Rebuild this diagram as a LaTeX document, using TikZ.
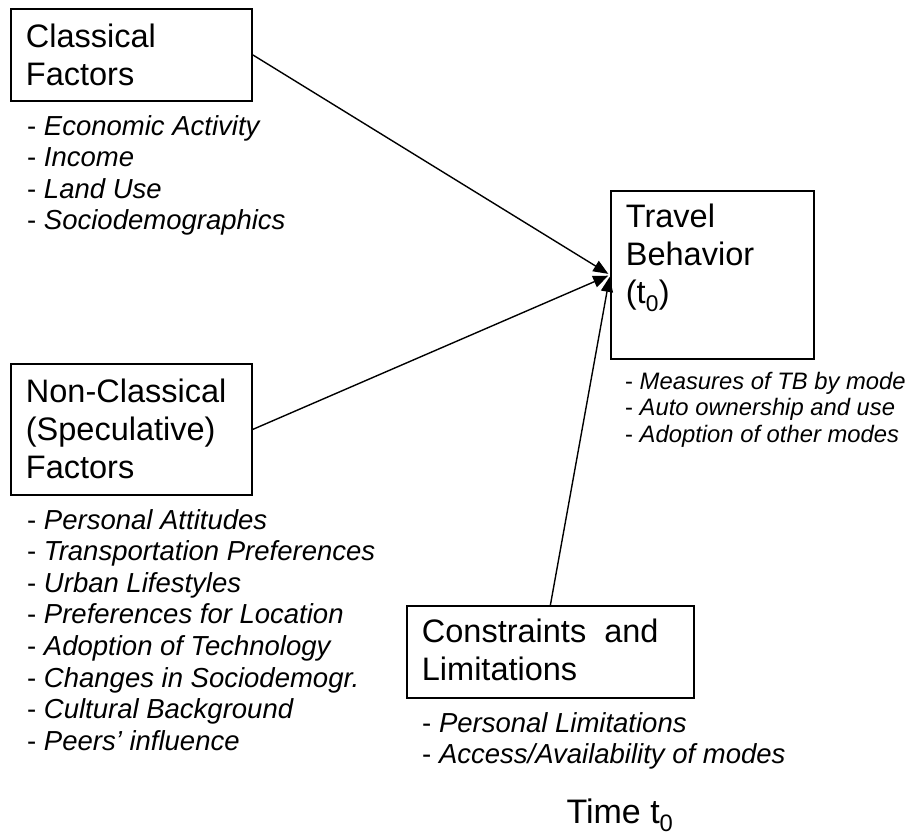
\documentclass[tikz,border=0pt]{standalone}
\usepackage{fontspec}
\setmainfont{Liberation Sans}
\usepackage{tikz}
\usetikzlibrary{positioning}
\usetikzlibrary{arrows.meta}
\newcommand{\titlesize}{\fontsize{32.5}{38}\selectfont}
\newcommand{\listsize}{\fontsize{27.5}{31.6}\selectfont}
\newcommand{\tbsize}{\fontsize{23.8}{26.7}\selectfont}
\newcommand{\timesize}{\fontsize{34}{40}\selectfont}

\begin{document}
\begin{tikzpicture}[x=1pt,y=-1pt]
\tikzset{factorbox/.style={draw, line width=1.8pt, inner xsep=15pt, inner ysep=0pt, anchor=north west, font=\titlesize}}
\tikzset{factorlist/.style={inner sep=0pt, font=\listsize}}
\tikzset{tblist/.style={inner sep=0pt, font=\tbsize}}
\tikzset{causal/.style={-{Triangle[length=15pt,width=12pt]}, line width=1.4pt, shorten >=2pt}}
\useasboundingbox (0,0) rectangle (910,835);
\node[factorbox] (classical) at (10,8) {\parbox[c][92pt][t]{211pt}{\rule{0pt}{39pt}Classical\\Factors}};
\node[factorbox] (nonclassical) at (10,363) {\parbox[c][131pt][t]{211pt}{\rule{0pt}{39pt}Non-Classical\\(Speculative)\\Factors}};
\node[factorbox] (tb) at (610,190) {\parbox[c][168pt][t]{173pt}{\rule{0pt}{37pt}Travel\\Behavior\\(t\textsubscript{0})}};
\node[factorbox] (constraints) at (406,605) {\parbox[c][92pt][t]{257pt}{\rule{0pt}{37pt}Constraints\ \ and\\Limitations}};
\node[factorlist, below right=0pt and 17pt of classical.south west] (classicallist) {\parbox[t]{400pt}{\rule{0pt}{33pt}- \textit{Economic Activity}\\- \textit{Income}\\- \textit{Land Use}\\- \textit{Sociodemographics}}};
\node[factorlist, below right=0pt and 17pt of nonclassical.south west] (nonclassicallist) {\parbox[t]{400pt}{\rule{0pt}{33pt}- \textit{Personal Attitudes}\\- \textit{Transportation Preferences}\\- \textit{Urban Lifestyles}\\- \textit{Preferences for Location}\\- \textit{Adoption of Technology}\\- \textit{Changes in Sociodemogr.}\\- \textit{Cultural Background}\\- \textit{Peers’ influence}}};
\node[tblist, below right=0pt and 15pt of tb.south west] (tblist) {\parbox[t]{400pt}{\rule{0pt}{29pt}- \textit{Measures of TB by mode}\\- \textit{Auto ownership and use}\\- \textit{Adoption of other modes}}};
\node[factorlist, below right=0pt and 16pt of constraints.south west] (constraintslist) {\parbox[t]{400pt}{\rule{0pt}{33pt}- \textit{Personal Limitations}\\- \textit{Access/Availability of modes}}};
\node[font=\timesize, anchor=base] (time) at (620,823) {Time t\textsubscript{0}};
\draw[causal] (classical.east) -- (tb.west);
\draw[causal] (nonclassical.east) -- (tb.west);
\draw[causal] (constraints.north) -- (tb.west);
\end{tikzpicture}
\end{document}
